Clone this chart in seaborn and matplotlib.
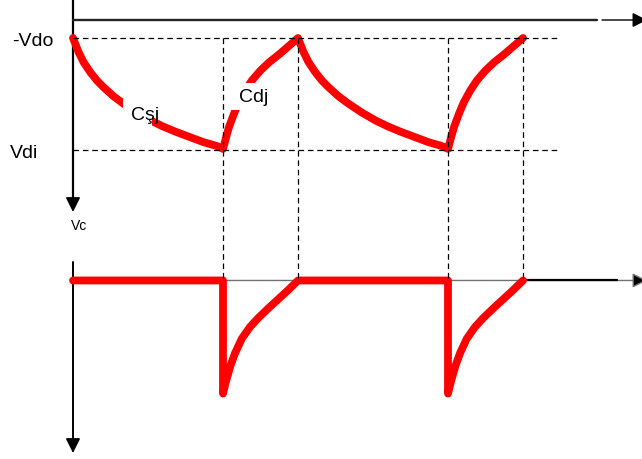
import matplotlib
matplotlib.use("Agg")
import matplotlib.pyplot as plt
from matplotlib.patches import Rectangle
import pandas as pd
import seaborn as sns

# ---- waveform data -------------------------------------------------------
# time in switching units; capacitor voltage as fraction of the swing
# from -Vdo (0) down to Vdi (1)
VC_T = [0, 0.07, 0.14, 0.23, 0.32, 0.40, 0.54, 0.67, 0.85, 1.03, 1.20,
        1.38, 1.56, 1.74, 1.92, 2.0,
        2.04, 2.08, 2.15, 2.21, 2.30, 2.39, 2.50, 2.61, 2.75, 2.88, 3.0,
        3.07, 3.14, 3.23, 3.32, 3.40, 3.54, 3.67, 3.85, 4.03, 4.20,
        4.38, 4.56, 4.74, 4.92, 5.0,
        5.04, 5.08, 5.15, 5.21, 5.30, 5.39, 5.50, 5.61, 5.75, 5.88, 6.0]
VC_V = [0, 0.12, 0.215, 0.305, 0.38, 0.435, 0.52, 0.585, 0.665, 0.735, 0.79,
        0.84, 0.885, 0.93, 0.965, 0.99,
        0.89, 0.795, 0.67, 0.575, 0.465, 0.375, 0.29, 0.22, 0.145, 0.07, 0.0,
        0.12, 0.215, 0.305, 0.38, 0.435, 0.52, 0.585, 0.665, 0.735, 0.79,
        0.84, 0.885, 0.93, 0.965, 0.99,
        0.89, 0.795, 0.67, 0.575, 0.465, 0.375, 0.29, 0.22, 0.145, 0.07, 0.0]

# current pulse (depth below the baseline, same vertical unit)
I_T = [0, 2.0, 2.0, 2.04, 2.10, 2.16, 2.25, 2.36, 2.47, 2.61, 2.74, 2.87, 3.0,
       5.0, 5.0, 5.04, 5.10, 5.16, 5.25, 5.36, 5.47, 5.61, 5.74, 5.87, 6.0]
I_V = [0, 0, 1.01, 0.90, 0.76, 0.65, 0.52, 0.415, 0.335, 0.245, 0.165, 0.085, 0,
       0, 1.01, 0.90, 0.76, 0.65, 0.52, 0.415, 0.335, 0.245, 0.165, 0.085, 0]

T_SWITCH = [2, 3, 5, 6]
LEVELS = [0.0, 1.0]
LEVEL_LABELS = ["-Vdo", "Vdi"]
AXIS_LABEL = "Vc"
SEG_LABELS = ["Cşj", "Cdj"]

# ---- layout ---------------------------------------------------------------
LOWER_BASE = 2.165          # baseline of the lower trace
DASH_END = 6.45
RED = "#ff0000"

sns.set_theme(style="white")
plt.rcParams["font.family"] = ["Liberation Sans", "DejaVu Sans"]

fig = plt.figure(figsize=(6.42, 4.60), dpi=100)
ax = fig.add_axes([0, 0, 1, 1])
ax.set_xlim(-73 / 75, 569 / 75)
ax.set_ylim(421 / 112, -39 / 112)
ax.set_axis_off()

def tx(px):
    return (px - 73) / 75

def ty(py):
    return (py - 39) / 112

arrow_kw = dict(arrowstyle="-|>", mutation_scale=22, shrinkA=0, shrinkB=0)

# axes of the upper diagram
ax.plot([0, 0], [ty(-2), ty(200)], color="black", lw=1.6, zorder=2)
ax.annotate("", xy=(0, ty(213)), xytext=(0, ty(199)),
            arrowprops=dict(color="black", lw=1.2, **arrow_kw),
            annotation_clip=False)
ax.plot([0, tx(597)], [ty(21), ty(21)], color="#222222", lw=1.7, zorder=2)
ax.annotate("", xy=(tx(647), ty(21)), xytext=(tx(602), ty(21)),
            arrowprops=dict(color="black", lw=1.0, **arrow_kw),
            annotation_clip=False)

# axes of the lower diagram
ax.plot([0, 0], [ty(263), ty(442)], color="black", lw=1.4, zorder=2)
ax.annotate("", xy=(0, ty(454)), xytext=(0, ty(440)),
            arrowprops=dict(color="black", lw=1.2, **arrow_kw),
            annotation_clip=False)
ax.annotate("", xy=(tx(647), LOWER_BASE), xytext=(0, LOWER_BASE),
            arrowprops=dict(lw=1.0, fc="black", ec="#707070", **arrow_kw),
            annotation_clip=False, zorder=1)
ax.plot([6, tx(617)], [LOWER_BASE, LOWER_BASE], color="black", lw=1.6, zorder=2)

# dashed reference levels and switching instants
for lv in LEVELS:
    ax.plot([0, DASH_END], [lv, lv], color="black", lw=0.9,
            dashes=(4.5, 3.0), zorder=6)
for ts in T_SWITCH:
    ax.plot([ts, ts], [0, LOWER_BASE], color="black", lw=0.9,
            dashes=(4.5, 3.0), zorder=6)

# red waveforms
vc = pd.DataFrame({"t": VC_T, "v": VC_V})
cur = pd.DataFrame({"t": I_T, "i": [LOWER_BASE + v for v in I_V]})
line_kw = dict(color=RED, lw=5.6, solid_capstyle="round",
               solid_joinstyle="round", sort=False, estimator=None,
               legend=False, ax=ax, zorder=3)
sns.lineplot(data=vc, x="t", y="v", **line_kw)
sns.lineplot(data=cur, x="t", y="i", **line_kw)

# white backgrounds behind the segment labels
for (x0, x1, y0, y1) in [(123, 152, 100, 130), (231, 272, 84, 111)]:
    ax.add_patch(Rectangle((tx(x0), ty(y0)), tx(x1) - tx(x0), ty(y1) - ty(y0),
                           facecolor="white", edgecolor="none", zorder=4))

# texts
ax.text(tx(12), ty(46), LEVEL_LABELS[0], fontsize=14, ha="left",
        va="baseline", color="black", zorder=7)
ax.text(tx(10), ty(158), LEVEL_LABELS[1], fontsize=14, ha="left",
        va="baseline", color="black", zorder=7)
ax.text(tx(71), ty(230), AXIS_LABEL, fontsize=10, ha="left",
        va="baseline", color="black", zorder=7)
ax.text(tx(131), ty(120), SEG_LABELS[0], fontsize=14, ha="left",
        va="baseline", color="black", zorder=7)
ax.text(tx(239), ty(102), SEG_LABELS[1], fontsize=14, ha="left",
        va="baseline", color="black", zorder=7)

fig.savefig("out.png", dpi=100)
